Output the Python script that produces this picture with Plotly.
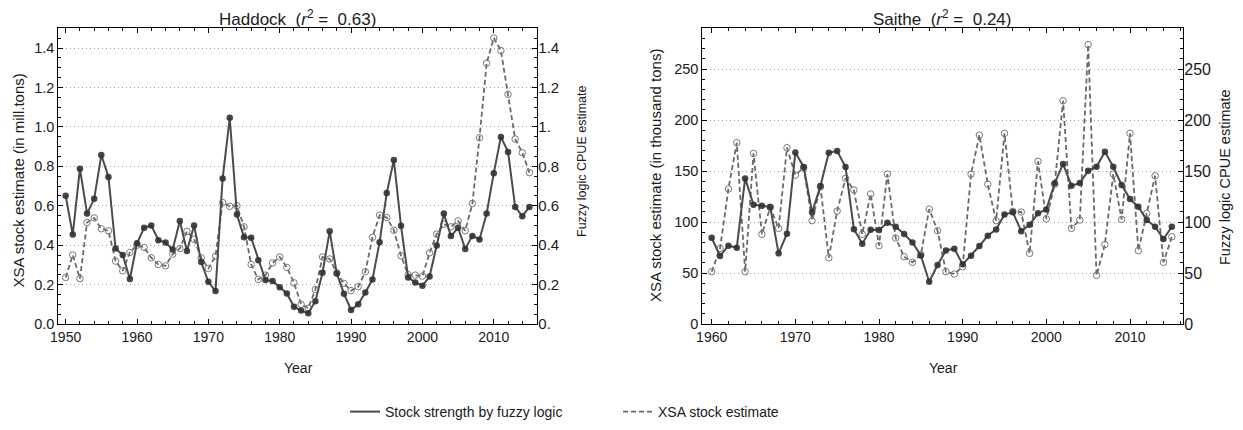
import plotly.graph_objects as go

# ---------------- data ----------------
had_years = list(range(1950, 2016))
had_fuzzy = [0.65, 0.454, 0.788, 0.56, 0.635, 0.857, 0.746, 0.383, 0.35, 0.228,
             0.41, 0.488, 0.50, 0.425, 0.413, 0.378, 0.523, 0.37, 0.50, 0.314,
             0.214, 0.167, 0.738, 1.046, 0.555, 0.44, 0.437, 0.324, 0.223, 0.218,
             0.186, 0.155, 0.088, 0.068, 0.054, 0.116, 0.26, 0.47, 0.256, 0.154,
             0.071, 0.10, 0.16, 0.226, 0.415, 0.665, 0.832, 0.498, 0.236, 0.211,
             0.194, 0.241, 0.398, 0.56, 0.446, 0.488, 0.381, 0.447, 0.429, 0.56,
             0.765, 0.949, 0.873, 0.594, 0.547, 0.594]
had_xsa = [0.236, 0.35, 0.23, 0.515, 0.538, 0.483, 0.473, 0.319, 0.27, 0.363,
           0.40, 0.388, 0.336, 0.302, 0.295, 0.354, 0.383, 0.47, 0.43, 0.336,
           0.282, 0.344, 0.616, 0.597, 0.60, 0.493, 0.302, 0.226, 0.248, 0.31,
           0.34, 0.287, 0.209, 0.10, 0.08, 0.175, 0.34, 0.33, 0.26, 0.206,
           0.169, 0.189, 0.265, 0.44, 0.552, 0.54, 0.476, 0.346, 0.25, 0.248,
           0.243, 0.361, 0.456, 0.506, 0.493, 0.523, 0.473, 0.611, 0.945, 1.323,
           1.451, 1.387, 1.165, 0.938, 0.869, 0.768]

sai_years = list(range(1960, 2016))
sai_fuzzy = [84.6, 66.7, 76.8, 74.8, 142.8, 117, 116, 114.7, 69.3, 88.6,
             168.3, 154, 109.5, 135.3, 168, 169.6, 154, 93, 78.8, 92.5,
             92.2, 99.3, 95.4, 88.2, 80, 67.3, 41.5, 57.8, 72.2, 73.9,
             58.5, 67, 76.5, 86.6, 92.8, 107.5, 109.5, 91, 97.4, 108.5,
             112.4, 138, 157, 135.6, 138.2, 150.3, 154.2, 169, 154.2, 136.3,
             122.5, 115, 102, 95.4, 83.3, 95.4]
sai_xsa = [51.3, 74.2, 132.4, 177.8, 51.3, 167.3, 88, 114.4, 93.8, 172.9,
           146, 153.3, 101.3, 134.6, 65, 110.8, 142.8, 131.4, 88, 127.5,
           76.8, 147, 84.3, 66, 60.5, 68, 112.7, 91.5, 51.3, 49,
           56.2, 147, 185.3, 137, 101.3, 187, 110.5, 109.8, 69.3, 159.5,
           103, 137, 219, 93.8, 102, 274, 47.7, 78, 147, 102.6,
           187, 72, 108.5, 145.4, 60.5, 85.6]

had_ticks = [0, 0.2, 0.4, 0.6, 0.8, 1.0, 1.2, 1.4]
had_left_labels = ["0.0", "0.2", "0.4", "0.6", "0.8", "1.0", "1.2", "1.4"]
had_right_labels = ["0.", "0.2", "0.4", "0.6", "0.8", "1.", "1.2", "1.4"]
sai_ticks = [0, 50, 100, 150, 200, 250]
sai_labels = ["0", "50", "100", "150", "200", "250"]

titles = ["Haddock\u00a0\u00a0(<i>r</i><sup>2</sup> =\u00a0\u00a00.63)",
          "Saithe\u00a0\u00a0(<i>r</i><sup>2</sup> =\u00a0\u00a00.24)"]
legend_names = ["Stock strength by fuzzy logic", "XSA stock estimate"]

# ---------------- style ----------------
WIN_W, WIN_H = 1243, 430
BODY = 8                      # default page margin around the plot div
W, H = WIN_W - 2 * BODY, WIN_H - 2 * BODY
FONT = "Liberation Sans, Arial, Helvetica, sans-serif"
TXT = "#1a1a1a"
SOLID = "rgb(75,75,75)"
DASH = "rgb(105,105,105)"


def px(x):
    return (x - BODY) / W


def py(y):
    return 1 - (y - BODY) / H


fig = go.Figure()


def add_panel(xs, fz, xsa, xa, ya):
    fig.add_trace(go.Scatter(
        x=xs, y=xsa, mode="lines+markers", xaxis=xa, yaxis=ya, showlegend=False,
        line=dict(color=DASH, width=1.8, dash="5px,3px"),
        marker=dict(symbol="circle-open", size=6.5, color="rgb(120,120,120)",
                    line=dict(width=1))))
    fig.add_trace(go.Scatter(
        x=xs, y=fz, mode="lines+markers", xaxis=xa, yaxis=ya, showlegend=False,
        line=dict(color=SOLID, width=2),
        marker=dict(symbol="circle", size=6.5, color="rgba(50,50,50,0.9)")))


add_panel(had_years, had_fuzzy, had_xsa, "x", "y")
add_panel(sai_years, sai_fuzzy, sai_xsa, "x2", "y2")

# legend-only traces (lines only, as in the reference legend)
fig.add_trace(go.Scatter(x=[None], y=[None], mode="lines", name=legend_names[0],
                         line=dict(color=SOLID, width=2)))
fig.add_trace(go.Scatter(x=[None], y=[None], mode="lines", name=legend_names[1],
                         line=dict(color=DASH, width=1.8, dash="5px,3px")))

y_dom = [py(324), py(28.3)]


def xaxis(dom, anchor, rng, tick0, fs):
    return dict(domain=dom, anchor=anchor, range=rng, tick0=tick0, dtick=10,
                ticks="inside", ticklen=5, tickwidth=1, tickcolor="black",
                mirror="ticks", showline=True, linecolor="black", linewidth=1,
                showgrid=False, zeroline=False, automargin=False,
                tickfont=dict(size=fs, color=TXT, family=FONT),
                minor=dict(dtick=2, tick0=tick0, ticks="inside", ticklen=3,
                           tickcolor="black", showgrid=False))


def yaxis(anchor, rng, tv, tt, mdt, fs):
    return dict(domain=y_dom, anchor=anchor, range=rng, tickvals=tv, ticktext=tt,
                ticks="inside", ticklen=5, tickcolor="black", mirror="ticks",
                showline=True, linecolor="black", linewidth=1, showgrid=True,
                gridcolor="rgb(160,160,160)", griddash="1px,3px", gridwidth=1,
                zeroline=False, automargin=False,
                tickfont=dict(size=fs, color=TXT, family=FONT),
                minor=dict(dtick=mdt, tick0=0, ticks="inside", ticklen=3,
                           tickcolor="black", showgrid=False))


def yaxis_right(anchor, over, rng, tv, tt, fs):
    return dict(domain=y_dom, anchor=anchor, overlaying=over, side="right",
                range=rng, tickvals=tv, ticktext=tt, ticks="", showgrid=False,
                showline=False, zeroline=False, automargin=False,
                tickfont=dict(size=fs, color=TXT, family=FONT))


fig.update_layout(
    template="none",
    width=W, height=H, margin=dict(l=0, r=0, t=0, b=0, autoexpand=False),
    paper_bgcolor="white", plot_bgcolor="white",
    font=dict(family=FONT, color=TXT, size=14),
    xaxis=xaxis([px(58.3), px(537.3)], "y", [1948.97, 2016.1], 1950, 14),
    yaxis=yaxis("x", [0, 1.5], had_ticks, had_left_labels, 0.05, 14.5),
    yaxis3=yaxis_right("x", "y", [0, 1.5], had_ticks, had_right_labels, 15),
    xaxis2=xaxis([px(702.3), px(1183.3)], "y2", [1958.88, 2016.37], 1960, 14),
    yaxis2=yaxis("x2", [0, 290], sai_ticks, sai_labels, 10, 14.5),
    yaxis4=yaxis_right("x2", "y2", [0, 290], sai_ticks, sai_labels, 16),
    showlegend=True,
    legend=dict(orientation="h", x=px(345), y=py(412), xanchor="left",
                yanchor="middle", font=dict(size=14, color=TXT, family=FONT),
                bgcolor="rgba(0,0,0,0)", entrywidth=228),
)

# invisible placeholders so the right-hand axes render
fig.add_trace(go.Scatter(x=[None], y=[None], xaxis="x", yaxis="y3", showlegend=False))
fig.add_trace(go.Scatter(x=[None], y=[None], xaxis="x2", yaxis="y4", showlegend=False))

ann = [
    dict(text=titles[0], x=px(297), y=py(18), size=17),
    dict(text=titles[1], x=px(942), y=py(18), size=17),
    dict(text="Year", x=px(298), y=py(368), size=14),
    dict(text="Year", x=px(943), y=py(368), size=14),
    dict(text="XSA stock estimate (in mill.tons)", x=px(17.5), y=py(181), size=15, angle=-90),
    dict(text="Fuzzy logic CPUE estimate", x=px(582), y=py(162), size=12.5, angle=-90),
    dict(text="XSA stock estimate (in thousand tons)", x=px(655), y=py(176), size=15, angle=-90),
    dict(text="Fuzzy logic CPUE estimate", x=px(1225), y=py(177), size=14.5, angle=-90),
]
for a in ann:
    fig.add_annotation(text=a["text"], x=a["x"], y=a["y"], xref="paper", yref="paper",
                       xanchor="center", yanchor="middle", showarrow=False,
                       textangle=a.get("angle", 0),
                       font=dict(size=a["size"], color=TXT, family=FONT))

fig.write_html("out.html")
